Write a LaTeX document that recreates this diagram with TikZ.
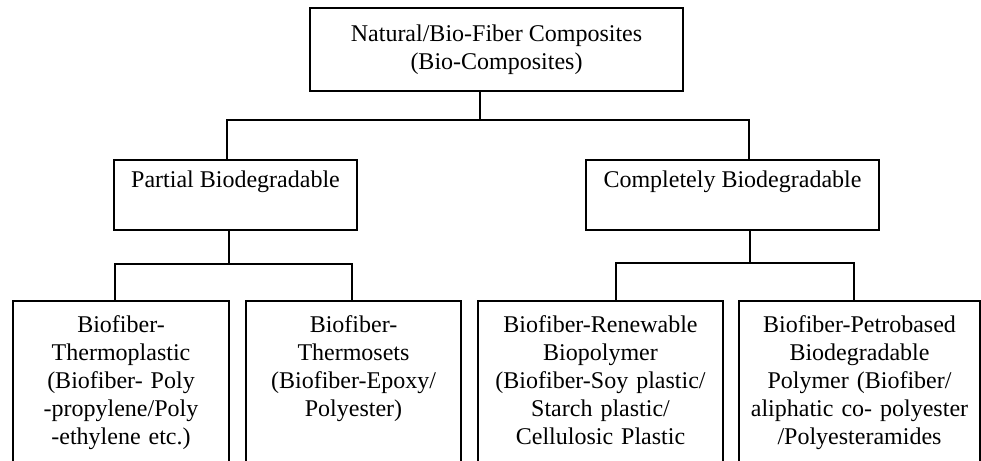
\documentclass[tikz,border=0pt]{standalone}
\usepackage{fontspec}
\setmainfont{Liberation Serif}
\begin{document}
\begin{tikzpicture}[x=0.5pt,y=-0.5pt,
  box/.style={draw,line width=0.6pt,inner sep=4pt,outer sep=0pt,align=center,
    font=\fontsize{12}{14}\selectfont},
  mid/.style={box,anchor=north,text height=9.5pt,text depth=17.5pt},
  leaf/.style={box,anchor=north,text height=11.5pt,text depth=90pt},
  link/.style={line width=0.6pt}]
\clip (0,0) rectangle (981,461);
%\node {\includegraphics{chart.png}};
\node[box,anchor=north,minimum width=186.5pt,minimum height=41.5pt] (root) at (496.5,8)
  {Natural/Bio-Fiber Composites\\(Bio-Composites)};
\node[mid,minimum width=121.5pt] (partial) at (235.5,160) {Partial Biodegradable};
\node[mid,minimum width=146.5pt] (complete) at (732.5,160) {Completely Biodegradable};
\node[leaf,text width=100pt] (tplastic) at (121,301)
  {Biofiber-\\Thermoplastic\\(Biofiber- Poly\\-propylene/Poly\\-ethylene etc.)};
\node[leaf,text width=99.5pt] (tset) at (353.5,301)
  {Biofiber-\\Thermosets\\(Biofiber-Epoxy/\\Polyester)};
\node[leaf,text width=114.5pt] (renew) at (600.5,301)
  {Biofiber-Renewable\\Biopolymer\\(Biofiber-Soy plastic/\\Starch plastic/\\Cellulosic Plastic};
\node[leaf,text width=112.5pt] (petro) at (859.5,301)
  {Biofiber-Petrobased\\Biodegradable\\Polymer (Biofiber/\\aliphatic co- polyester\\/Polyesteramides};
\coordinate (j0) at (480,120);
\coordinate (bL) at (227,120);
\coordinate (bR) at (749,120);
\draw[link] (root.south -| j0) -- (j0);
\draw[link] (bL |- partial.north) -- (bL) -- (bR) -- (bR |- complete.north);
\coordinate (j1) at (229,264);
\coordinate (cL1) at (115,264);
\coordinate (cL2) at (352,264);
\draw[link] (partial.south -| j1) -- (j1);
\draw[link] (cL1 |- tplastic.north) -- (cL1) -- (cL2) -- (cL2 |- tset.north);
\coordinate (j2) at (750,263);
\coordinate (cR1) at (616,263);
\coordinate (cR2) at (854,263);
\draw[link] (complete.south -| j2) -- (j2);
\draw[link] (cR1 |- renew.north) -- (cR1) -- (cR2) -- (cR2 |- petro.north);
\end{tikzpicture}
\end{document}
